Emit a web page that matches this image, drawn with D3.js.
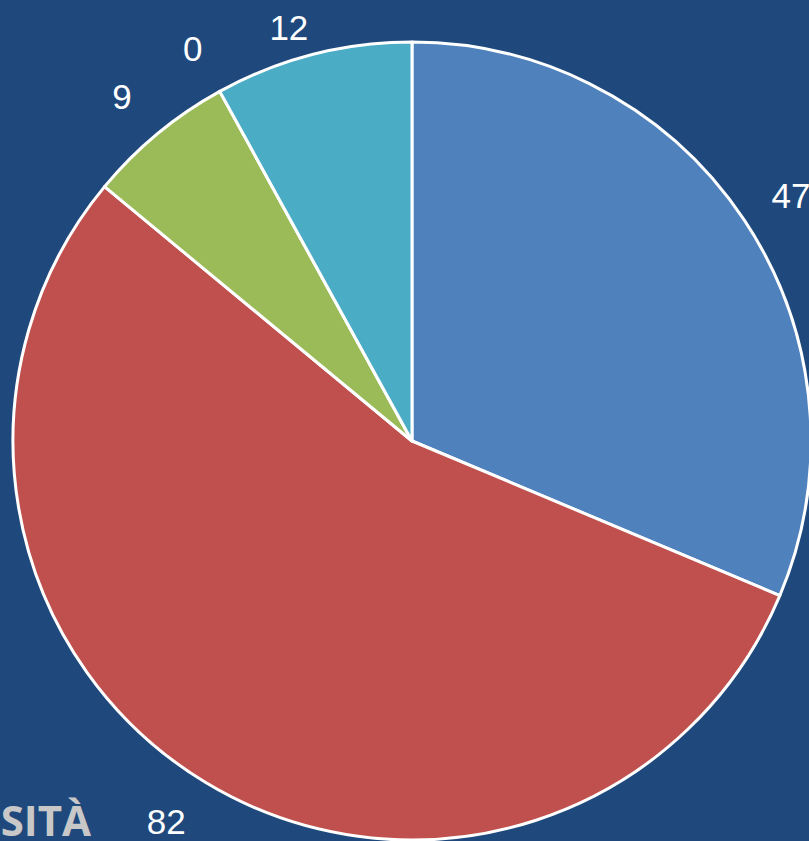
<!DOCTYPE html>
<html>
<head>
<meta charset="utf-8">
<script src="https://cdn.jsdelivr.net/npm/d3@7"></script>
<style>
  html, body { margin: 0; padding: 0; background: #1F497D; overflow: hidden; }
  svg { display: block; }
</style>
</head>
<body>
<svg id="chart" width="809" height="841"></svg>
<script>
var categories = ['A', 'B', 'C', 'D', 'E'];
var values = [47, 82, 9, 0, 12];
var colors = ['#4F81BD', '#C0504D', '#9BBB59', '#8064A2', '#4BACC6'];
var titleText = 'SITÀ';

var W = 809, H = 841;
var cx = 412, cy = 441, R = 399;
var labelR = 455;

var svg = d3.select('#chart');

svg.append('rect')
    .attr('width', W)
    .attr('height', H)
    .attr('fill', '#1F497D');

var data = categories.map(function(c, i) {
  return { name: c, value: values[i], color: colors[i] };
});

var pie = d3.pie()
    .sort(null)
    .value(function(d) { return d.value; });

var arcs = pie(data);

var arc = d3.arc()
    .innerRadius(0)
    .outerRadius(R);

var g = svg.append('g')
    .attr('transform', 'translate(' + cx + ',' + cy + ')');

g.selectAll('path.slice')
    .data(arcs)
    .enter()
    .append('path')
    .attr('class', 'slice')
    .attr('d', arc)
    .attr('fill', function(d) { return d.data.color; })
    .attr('stroke', '#ffffff')
    .attr('stroke-width', 3)
    .attr('stroke-linejoin', 'round');

// labels outside the pie, pulled back inside the picture top and bottom
function labelPos(d) {
  var a = (d.startAngle + d.endAngle) / 2;
  var x = labelR * Math.sin(a);
  var y = -labelR * Math.cos(a) + 6;
  var yc = Math.min(Math.max(y, 27 - cy), 821 - cy);
  // when clamped, slide a little toward the side it points to
  x += (yc - y) * 0 + (y !== yc ? Math.sign(x) * 10 : 0);
  return { x: x, y: yc };
}

g.selectAll('text.lbl')
    .data(arcs)
    .enter()
    .append('text')
    .attr('class', 'lbl')
    .attr('x', function(d) { return labelPos(d).x; })
    .attr('y', function(d) { return labelPos(d).y; })
    .attr('text-anchor', 'middle')
    .attr('dominant-baseline', 'central')
    .attr('fill', '#ffffff')
    .style('font-family', '"Liberation Sans", Arial, sans-serif')
    .style('font-size', '35px')
    .text(function(d) { return d.data.value; });

svg.append('text')
    .attr('x', 91)
    .attr('y', 836)
    .attr('text-anchor', 'end')
    .attr('fill', '#C8C8C8')
    .style('font-family', '"Open Sans", "Noto Sans", sans-serif')
    .style('font-weight', 700)
    .style('font-size', '42px')
    .text(titleText);
</script>
</body>
</html>
